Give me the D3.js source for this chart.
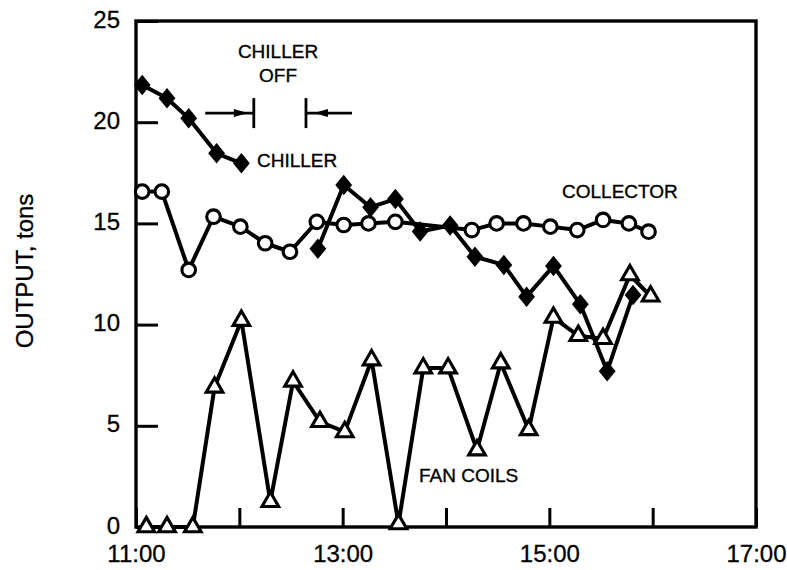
<!DOCTYPE html>
<html>
<head>
<meta charset="utf-8">
<script src="https://cdn.jsdelivr.net/npm/d3@7"></script>
<style>
  html, body { margin: 0; padding: 0; background: #fff; }
  svg { display: block; }
  text { font-family: "Liberation Sans", Arial, Helvetica, sans-serif; fill: #000; }
</style>
</head>
<body>
<svg id="chart" width="787" height="570"></svg>
<script>
// ---- data (time in decimal hours, output in tons) ----
const hourTicks = [11, 12, 13, 14, 15, 16, 17];
const hourLabels = ["11:00", "", "13:00", "", "15:00", "", "17:00"];
const yTicks = [0, 5, 10, 15, 20, 25];

const fanTimes  = [11.10, 11.30, 11.55, 11.76, 12.02, 12.30, 12.52, 12.78, 13.02, 13.28, 13.54,
                   13.78, 14.02, 14.30, 14.53, 14.80, 15.04, 15.28, 15.52, 15.78, 15.98];
const fanValues = [0, 0, 0, 6.9, 10.2, 1.25, 7.2, 5.2, 4.7, 8.25, 0.15,
                   7.85, 7.85, 3.8, 8.1, 4.8, 10.35, 9.45, 9.3, 12.45, 11.4];

const chillerTimes  = [11.06, 11.30, 11.51, 11.78, 12.02, 12.40, 12.76, 13.01, 13.27, 13.51,
                       13.75, 14.04, 14.28, 14.56, 14.78, 15.04, 15.30, 15.56, 15.81];
const chillerValues = [21.84, 21.18, 20.19, 18.46, 17.97, null, 13.75, 16.9, 15.8, 16.2,
                       14.6, 14.9, 13.35, 12.95, 11.38, 12.9, 11.0, 7.7, 11.46];

const collectorTimes  = [11.06, 11.25, 11.51, 11.75, 12.01, 12.25, 12.49, 12.75, 13.01, 13.25,
                         13.51, 14.25, 14.49, 14.75, 15.01, 15.27, 15.52, 15.77, 15.96];
const collectorValues = [16.57, 16.57, 12.7, 15.33, 14.84, 14.02, 13.6, 15.08, 14.92, 15.0,
                         15.08, 14.67, 15.0, 15.0, 14.84, 14.67, 15.17, 15.0, 14.59];

const chillerOffStart = 12.14;
const chillerOffEnd = 12.645;

// ---- scales ----
const svg = d3.select("#chart");
const x = d3.scaleLinear().domain([11, 17]).range([136, 756]);
const y = d3.scaleLinear().domain([0, 25]).range([527, 21]);

const zip = (t, v) => t.map((d, i) => ({ t: d, v: v[i] }));
const fan = zip(fanTimes, fanValues);
const chiller = zip(chillerTimes, chillerValues);
const collector = zip(collectorTimes, collectorValues);

// ---- axes ----
const yAxis = d3.axisLeft(y).tickValues(yTicks).tickSizeInner(-22).tickSizeOuter(0).tickPadding(16);
const gy = svg.append("g").attr("transform", `translate(${x(11)},0)`).call(yAxis);
gy.select(".domain").remove();
gy.selectAll(".tick line").attr("stroke", "#000").attr("stroke-width", 3);
gy.selectAll(".tick text").attr("font-size", 24).attr("dy", "0.25em")
  .attr("stroke", "#000").attr("stroke-width", 0.3)
  .style("font-family", '"Liberation Sans", Arial, sans-serif');

const xAxis = d3.axisBottom(x).tickValues(hourTicks)
  .tickFormat((d, i) => hourLabels[i]).tickSizeInner(-19).tickSizeOuter(0).tickPadding(18);
const gx = svg.append("g").attr("transform", `translate(0,${y(0)})`).call(xAxis);
gx.select(".domain").remove();
gx.selectAll(".tick line").attr("stroke", "#000").attr("stroke-width", 3);
gx.selectAll(".tick text").attr("font-size", 24)
  .attr("stroke", "#000").attr("stroke-width", 0.3)
  .style("font-family", '"Liberation Sans", Arial, sans-serif');

// frame
svg.append("rect")
  .attr("x", x(11)).attr("y", y(25))
  .attr("width", x(17) - x(11)).attr("height", y(0) - y(25))
  .attr("fill", "none").attr("stroke", "#000").attr("stroke-width", 3.4);

// y title
svg.append("text")
  .attr("transform", `translate(33,${(y(0) + y(25)) / 2 - 3}) rotate(-90)`)
  .attr("text-anchor", "middle").attr("font-size", 24)
  .attr("stroke", "#000").attr("stroke-width", 0.3)
  .text("OUTPUT, tons");

// ---- lines ----
const line = d3.line().defined(d => d.v !== null).x(d => x(d.t)).y(d => y(d.v));
function drawLine(data) {
  svg.append("path").datum(data)
    .attr("d", line).attr("fill", "none").attr("stroke", "#000")
    .attr("stroke-width", 4).attr("stroke-linejoin", "round");
}

const diamondTall = {
  draw(ctx, size) {
    const h = Math.sqrt(size) / 2, w = h * 0.82;
    ctx.moveTo(0, -h); ctx.lineTo(w, 0); ctx.lineTo(0, h); ctx.lineTo(-w, 0); ctx.closePath();
  }
};

// fan coils
drawLine(fan);
svg.append("g").selectAll("path").data(fan).join("path")
  .attr("transform", d => `translate(${x(d.t)},${y(d.v)})`)
  .attr("d", d3.symbol(d3.symbolTriangle, 120))
  .attr("fill", "#fff").attr("stroke", "#000").attr("stroke-width", 3.1).attr("stroke-linejoin", "miter");

// collector
drawLine(collector);
svg.append("g").selectAll("circle").data(collector).join("circle")
  .attr("cx", d => x(d.t)).attr("cy", d => y(d.v)).attr("r", 6.8)
  .attr("fill", "#fff").attr("stroke", "#000").attr("stroke-width", 3.1);

// chiller
drawLine(chiller);
svg.append("g").selectAll("path").data(chiller.filter(d => d.v !== null)).join("path")
  .attr("transform", d => `translate(${x(d.t)},${y(d.v)})`)
  .attr("d", d3.symbol(diamondTall, 420))
  .attr("fill", "#000");

// ---- annotations ----
const ann = svg.append("g").attr("font-size", 19).attr("stroke", "#000").attr("stroke-width", 0.35);
ann.append("text").attr("x", 278).attr("y", 58).attr("text-anchor", "middle").text("CHILLER");
ann.append("text").attr("x", 278).attr("y", 82).attr("text-anchor", "middle").text("OFF");
ann.append("text").attr("x", 257).attr("y", 167).text("CHILLER");
ann.append("text").attr("x", 562).attr("y", 198).text("COLLECTOR");
ann.append("text").attr("x", 419).attr("y", 482).text("FAN COILS");

// chiller-off arrows
const ay = y(20.45);
const xs = x(chillerOffStart), xe = x(chillerOffEnd);
const arr = svg.append("g").attr("stroke", "#000").attr("stroke-width", 2.8);
arr.append("line").attr("x1", x(11.67)).attr("x2", xs).attr("y1", ay).attr("y2", ay);
arr.append("line").attr("x1", xs).attr("x2", xs).attr("y1", ay - 15).attr("y2", ay + 15);
arr.append("line").attr("x1", xe).attr("x2", x(13.09)).attr("y1", ay).attr("y2", ay);
arr.append("line").attr("x1", xe).attr("x2", xe).attr("y1", ay - 15).attr("y2", ay + 15);
svg.append("path")
  .attr("d", `M${xs - 6},${ay} L${xs - 20},${ay - 4} L${xs - 20},${ay + 4} Z`).attr("fill", "#000");
svg.append("path")
  .attr("d", `M${xe + 8},${ay} L${xe + 22},${ay - 4} L${xe + 22},${ay + 4} Z`).attr("fill", "#000");
</script>
</body>
</html>
